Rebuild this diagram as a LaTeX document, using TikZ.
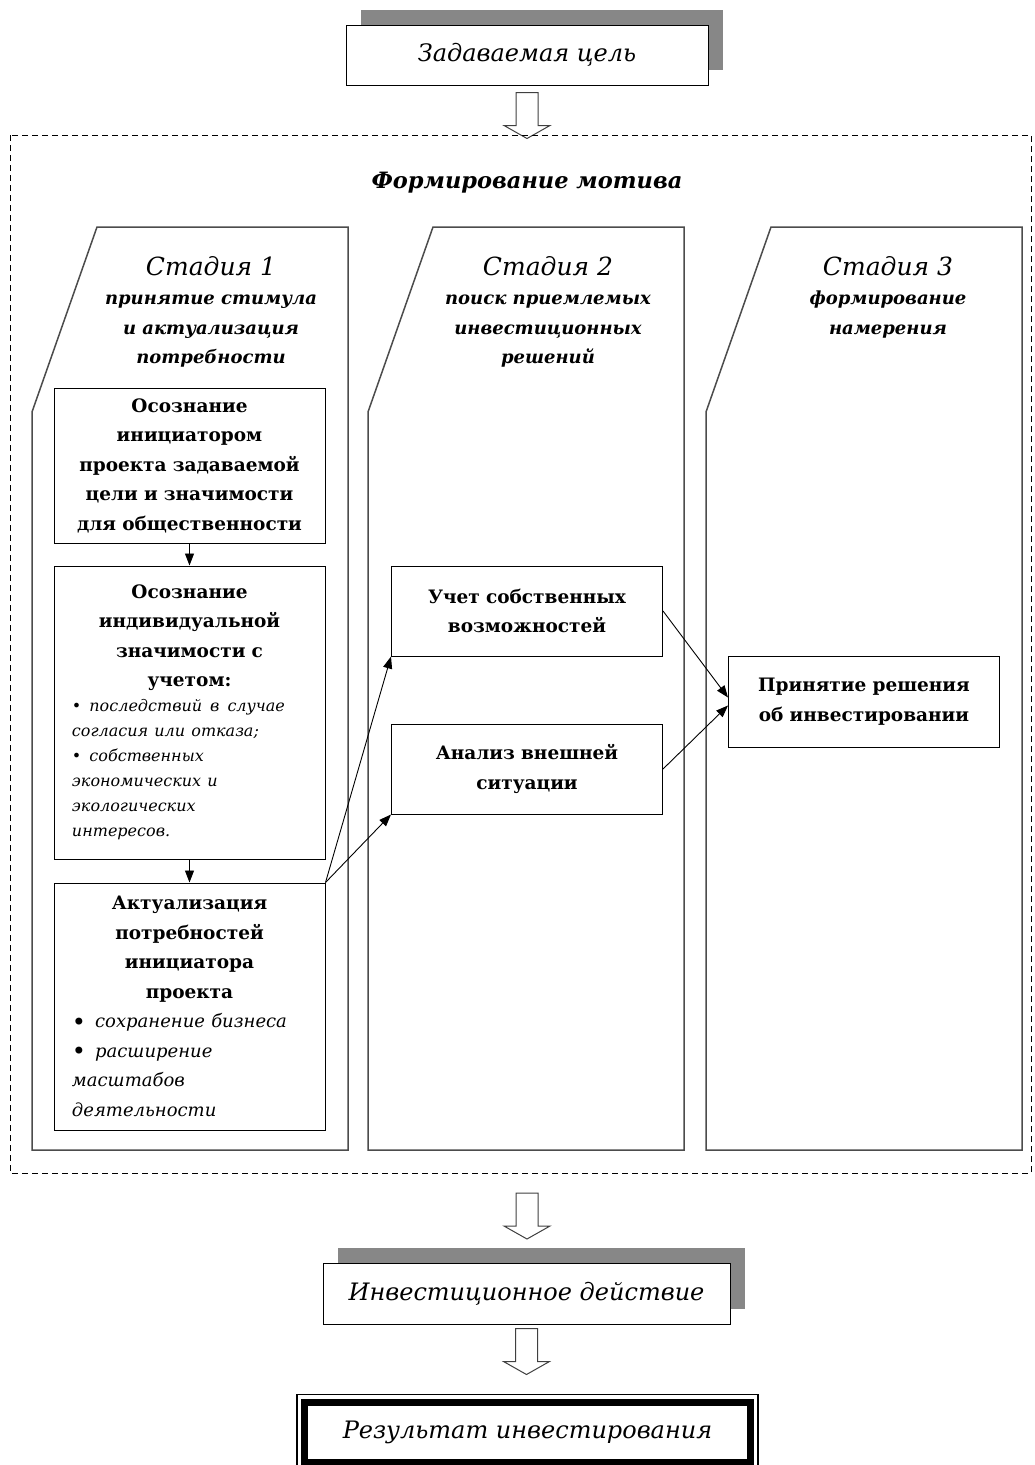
\documentclass[tikz,border=0pt]{standalone}
\usepackage{fontspec}
\setmainfont{DejaVu Serif}
\usetikzlibrary{arrows.meta,positioning,shadows}
\newcommand{\goalfont}{\fontsize{24}{30}\selectfont\itshape}
\newcommand{\stagefont}{\fontsize{25}{30}\selectfont\mdseries\itshape}
\newcommand{\titlefont}{\fontsize{22.5}{28}\selectfont\bfseries\itshape}
\newcommand{\subfont}{\fontsize{18}{29.5}\selectfont\bfseries\itshape}
\newcommand{\boxfont}{\fontsize{18.5}{29.5}\selectfont\bfseries}
\newcommand{\itemfont}{\fontsize{16}{25}\selectfont\mdseries\itshape}
\newcommand{\bigitemfont}{\fontsize{18}{29.5}\selectfont\mdseries\itshape}
\newcommand{\bline}[1]{\makebox[\hsize][l]{\hspace*{9pt}#1}}
\newcommand{\bigbullet}{\raisebox{-2.5pt}{\fontsize{24}{24}\selectfont\upshape\textbullet}}

\begin{document}
\begin{tikzpicture}[
  x=1pt, y=-1pt,
  goal/.style={draw, line width=1pt, fill=white, font=\goalfont, minimum width=362pt, minimum height=60pt,
    drop shadow={fill=black!47, opacity=1, shadow xshift=15pt, shadow yshift=15pt}},
  result/.style={draw, line width=7pt, outer sep=0pt, fill=white, font=\goalfont, minimum width=446pt, minimum height=60pt},
  frame/.style={draw, line width=1pt, dash pattern=on 6pt off 4pt},
  stagebox/.style={draw=black!70, line width=1.5pt},
  stagetitle/.style={anchor=north, align=center, font=\subfont, inner sep=0pt},
  blk/.style={draw, line width=1pt, fill=white, font=\boxfont, align=center, text width=253pt, inner xsep=9pt, minimum width=271pt},
  arr/.style={-{Triangle[length=12pt,width=9pt]}, line width=0.9pt},
  hollowdown/.pic={
    \draw[draw=black!75, line width=1pt, fill=white] (-11,0) -- (11,0) -- (11,33) -- (23,33) -- (0,46) -- (-23,33) -- (-11,33) -- cycle;
  }
]
\useasboundingbox (0,0) rectangle (1035,1465);

% goal and motive frame
\node[goal] (goal) at (527,55) {Задаваемая цель};
\path (goal.south) ++(0,7) pic {hollowdown};
\draw[frame] (10,135) rectangle (1031,1173);
\node[font=\titlefont] (motive) at (527,183) {Формирование мотива};

% the three stages
\foreach \dx in {0,336,674}
  \draw[stagebox] (97+\dx,227) -- (348+\dx,227) -- (348+\dx,1150) -- (32+\dx,1150) -- (32+\dx,412) -- cycle;
\node[stagetitle] (st1) at (211,256) {{\stagefont Стадия 1}\\принятие стимула\\и актуализация\\потребности};
\node[stagetitle] (st2) at (548,256) {{\stagefont Стадия 2}\\поиск приемлемых\\инвестиционных\\решений};
\node[stagetitle] (st3) at (888,256) {{\stagefont Стадия 3}\\формирование\\намерения};

% stage 1
\node[blk, minimum height=155pt] (aware) at (189.5,465.5) {Осознание\\инициатором\\проекта задаваемой\\цели и значимости\\для общественности};
\node[blk, below=22pt of aware, minimum height=293pt] (value) {Осознание\\индивидуальной\\значимости с\\учетом:\par
  {\itemfont\bline{\textbullet\enspace последствий\enspace в\enspace случае}\\\bline{согласия или отказа;}\\\bline{\textbullet\enspace собственных}\\\bline{экономических и}\\\bline{экологических}\\\bline{интересов.}\par}};
\node[blk, below=23pt of value, minimum height=247pt] (need) {Актуализация\\потребностей\\инициатора\\проекта\par
  {\bigitemfont\bline{\bigbullet\enspace сохранение бизнеса}\\\bline{\bigbullet\enspace расширение}\\\bline{масштабов}\\\bline{деятельности}\par}};

% stage 2 and 3
\node[blk, minimum height=90pt] (own) at (527,611) {Учет собственных\\возможностей};
\node[blk, below=67pt of own, minimum height=90pt] (ext) {Анализ внешней\\ситуации};
\node[blk, minimum height=91pt] (decide) at (864,701.5) {Принятие решения\\об инвестировании};

\draw[arr] (aware) -- (value);
\draw[arr] (value) -- (need);
\draw[arr] (need.north east) -- (own.south west);
\draw[arr] (need.north east) -- (ext.south west);
\draw[arr] (own.east) -- ([yshift=4pt]decide.west);
\draw[arr] (ext.east) -- ([yshift=-4pt]decide.west);

% action and result
\pic at (527,1193) {hollowdown};
\node[goal, minimum width=407pt, minimum height=61pt] (act) at (526.5,1293.5) {Инвестиционное действие};
\path (act.south) ++(0,4) pic {hollowdown};
\node[result] (res) at (527.5,1432) {Результат инвестирования};
\draw[line width=1.2pt] ([xshift=-7.5pt,yshift=7.5pt]res.north west) rectangle ([xshift=7.5pt,yshift=-7.5pt]res.south east);
\end{tikzpicture}
\end{document}
